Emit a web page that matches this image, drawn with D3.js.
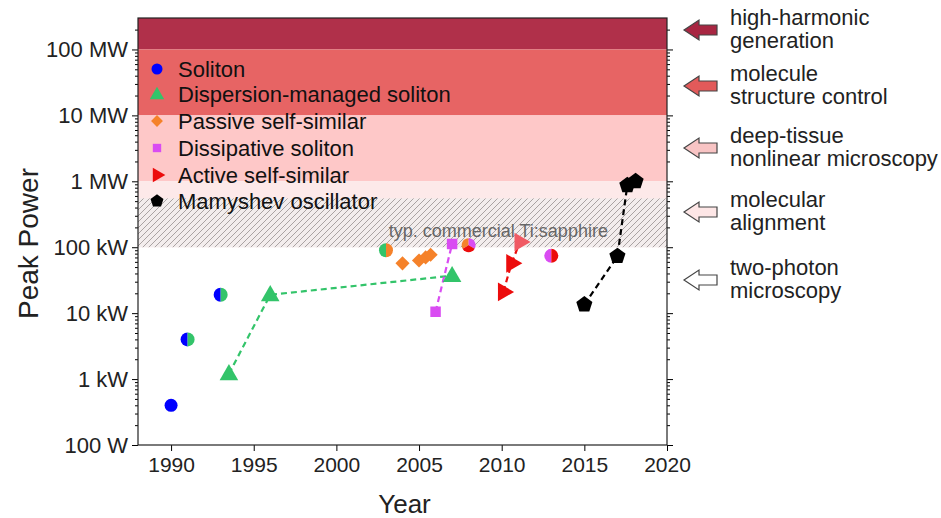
<!DOCTYPE html>
<html>
<head>
<meta charset="utf-8">
<script src="https://cdn.jsdelivr.net/npm/d3@7"></script>
<style>
  body { margin: 0; background: #fff; }
  svg { font-family: Arial, "Liberation Sans", sans-serif; }
</style>
</head>
<body>
<svg id="viz" width="941" height="518"></svg>
<script>
// data: [year, peak power in W]
var soliton = [[1990, 400]];
var dmSoliton = [[1993.5, 1200], [1996, 19000], [2007, 37000]];
var passiveSS = [[2004, 57000], [2005, 63000], [2005.4, 70000], [2005.7, 77000]];
var dissipative = [[2006, 10500], [2007, 112000]];
var activeSS = [[2010.1, 21000], [2010.6, 57000], [2011.1, 120000]];
var mamyshev = [[2015, 13500], [2017, 73000], [2017.6, 870000], [2018.1, 1000000]];
// points shared by several regimes (split circles)
var mixedYears = [1991, 1993, 2003, 2008, 2013];
var mixedPower = [4000, 19000, 90000, 107000, 74000];
var mixedColors = [["blue", "green"], ["blue", "green"], ["green", "orange"], ["orange", "magenta", "red"], ["magenta", "red"]];

var yTicks = [1e2, 1e3, 1e4, 1e5, 1e6, 1e7, 1e8];
var yTickLabels = ["100 W", "1 kW", "10 kW", "100 kW", "1 MW", "10 MW", "100 MW"];
var xTicks = [1990, 1995, 2000, 2005, 2010, 2015, 2020];

var legendNames = ["Soliton", "Dispersion-managed soliton", "Passive self-similar", "Dissipative soliton", "Active self-similar", "Mamyshev oscillator"];

// power bands and applications
var bandEdges = [3e8, 1e8, 1e7, 1e6, 1e5];
var bandColors = ["#b0304a", "#e76464", "#fec8c8", "#fde9e9"];
var appLabels = [["high-harmonic", "generation"], ["molecule", "structure control"], ["deep-tissue", "nonlinear microscopy"], ["molecular", "alignment"], ["two-photon", "microscopy"]];
var appArrowColors = ["#a82642", "#e25a5a", "#f8c4c4", "#fde6e6", "#ffffff"];
var tiSapphire = [1e5, 5.5e5];

var col = {blue: "#0000ff", green: "#33c46a", orange: "#f5822a", magenta: "#d94cf2", red: "#ec0c0c", black: "#000000"};

var margins = {top: 18, right: 274, bottom: 73, left: 138};
var W = 941, H = 518;

var svg = d3.select("#viz");
var x = d3.scaleLinear().domain([1988, 2020]).range([margins.left, W - margins.right]);
var y = d3.scaleLog().domain([100, 3e8]).range([H - margins.bottom, margins.top]);

var x0 = x.range()[0], x1 = x.range()[1], y0 = y.range()[0], y1 = y.range()[1];

// hatch pattern
var defs = svg.append("defs");
var pat = defs.append("pattern")
  .attr("id", "hatch").attr("patternUnits", "userSpaceOnUse")
  .attr("width", 6).attr("height", 6);
pat.append("rect").attr("width", 6).attr("height", 6).attr("fill", "#f3eded");
pat.append("path").attr("d", "M-1,1 l2,-2 M0,6 l6,-6 M5,7 l2,-2")
  .attr("stroke", "#aaa3a3").attr("stroke-width", 1);

// bands
for (var i = 0; i < bandColors.length; i++) {
  svg.append("rect")
    .attr("x", x0).attr("width", x1 - x0)
    .attr("y", y(bandEdges[i])).attr("height", y(bandEdges[i + 1]) - y(bandEdges[i]))
    .attr("fill", bandColors[i]);
}
svg.append("rect")
  .attr("x", x0).attr("width", x1 - x0)
  .attr("y", y(tiSapphire[1])).attr("height", y(tiSapphire[0]) - y(tiSapphire[1]))
  .attr("fill", "url(#hatch)");
svg.append("text")
  .attr("x", x(2009.8)).attr("y", y(1.45e5))
  .attr("text-anchor", "middle").attr("font-size", 18).attr("fill", "#666")
  .text("typ. commercial Ti:sapphire");

// axes
var yAxis = d3.axisLeft(y).tickValues(yTicks).tickSize(6)
  .tickFormat(function(d, i) { return yTickLabels[i]; });
var gy = svg.append("g").attr("transform", "translate(" + x0 + ",0)").call(yAxis);
gy.selectAll("text").attr("font-size", 22).attr("fill", "#222").attr("dx", "-1");

var minor = [];
for (var e = 2; e <= 8; e++) {
  for (var m = 2; m <= 9; m++) {
    if (m * Math.pow(10, e) < 3e8) minor.push(m * Math.pow(10, e));
  }
}
svg.append("g").attr("transform", "translate(" + x0 + ",0)")
  .call(d3.axisLeft(y).tickValues(minor).tickSize(3).tickFormat(""));
svg.append("g").attr("transform", "translate(" + x1 + ",0)")
  .call(d3.axisRight(y).tickValues(yTicks).tickSize(6).tickFormat(""));
svg.append("g").attr("transform", "translate(" + x1 + ",0)")
  .call(d3.axisRight(y).tickValues(minor).tickSize(3).tickFormat(""));

var gx = svg.append("g").attr("transform", "translate(0," + y0 + ")")
  .call(d3.axisBottom(x).tickValues(xTicks).tickSize(6).tickFormat(d3.format("d")));
gx.selectAll("text").attr("font-size", 21).attr("fill", "#222").attr("dy", "0.85em");
svg.selectAll(".domain").remove();

svg.append("rect")
  .attr("x", x0).attr("y", y1).attr("width", x1 - x0).attr("height", y0 - y1)
  .attr("fill", "none").attr("stroke", "#222").attr("stroke-width", 1.2);

svg.append("text")
  .attr("x", (x0 + x1) / 2 + 2).attr("y", 513)
  .attr("text-anchor", "middle").attr("font-size", 26).attr("fill", "#222")
  .text("Year");
svg.append("text")
  .attr("transform", "translate(38," + ((y0 + y1) / 2 + 12) + ") rotate(-90)")
  .attr("text-anchor", "middle").attr("font-size", 28).attr("fill", "#222")
  .text("Peak Power");

// dashed connecting lines
var line = d3.line().x(function(d) { return x(d[0]); }).y(function(d) { return y(d[1]); });
var dashed = [[dmSoliton, col.green], [dissipative, col.magenta], [activeSS, col.red], [mamyshev, col.black]];
dashed.forEach(function(s) {
  svg.append("path").datum(s[0])
    .attr("d", line).attr("fill", "none")
    .attr("stroke", s[1]).attr("stroke-width", 2.2).attr("stroke-dasharray", "6,4");
});

// marker shapes
var pentagon = {
  draw: function(ctx, size) {
    var r = Math.sqrt(size / 2.378);
    for (var k = 0; k < 5; k++) {
      var a = -Math.PI / 2 + k * 2 * Math.PI / 5;
      if (k === 0) ctx.moveTo(r * Math.cos(a), r * Math.sin(a));
      else ctx.lineTo(r * Math.cos(a), r * Math.sin(a));
    }
    ctx.closePath();
  }
};
function marker(g, type, cx, cy, size, fill, rot) {
  g.append("path")
    .attr("d", d3.symbol().type(type).size(size)())
    .attr("transform", "translate(" + cx + "," + cy + ") rotate(" + (rot || 0) + ")")
    .attr("fill", fill);
}

var pts = svg.append("g");
soliton.forEach(function(d) {
  pts.append("circle").attr("cx", x(d[0])).attr("cy", y(d[1])).attr("r", 6.5).attr("fill", col.blue);
});
dmSoliton.forEach(function(d) { marker(pts, d3.symbolTriangle, x(d[0]), y(d[1]) + 1, 150, col.green); });
passiveSS.forEach(function(d) { marker(pts, d3.symbolSquare, x(d[0]), y(d[1]), 100, col.orange, 45); });
dissipative.forEach(function(d) { marker(pts, d3.symbolSquare, x(d[0]), y(d[1]), 110, col.magenta); });
activeSS.forEach(function(d, i) {
  marker(pts, d3.symbolTriangle, x(d[0]), y(d[1]), 150, i === 2 ? "#f05a64" : col.red, 90);
});
mamyshev.forEach(function(d) { marker(pts, pentagon, x(d[0]), y(d[1]), 170, col.black); });

var arc = d3.arc().innerRadius(0).outerRadius(7);
mixedYears.forEach(function(yr, i) {
  var cs = mixedColors[i];
  var g = pts.append("g").attr("transform", "translate(" + x(yr) + "," + y(mixedPower[i]) + ")");
  var parts;
  if (cs.length === 2) parts = [[Math.PI, 2 * Math.PI], [0, Math.PI]];
  else parts = [[4 * Math.PI / 3, 2 * Math.PI], [0, 2 * Math.PI / 3], [2 * Math.PI / 3, 4 * Math.PI / 3]];
  cs.forEach(function(c, k) {
    g.append("path").attr("d", arc({startAngle: parts[k][0], endAngle: parts[k][1]})).attr("fill", col[c]);
  });
});

// legend
var legendRows = [69, 94, 121, 148, 175, 201];
var lg = svg.append("g");
legendNames.forEach(function(name, i) {
  var cx = 157, cy = legendRows[i];
  if (i === 0) lg.append("circle").attr("cx", cx).attr("cy", cy).attr("r", 5.5).attr("fill", col.blue);
  if (i === 1) marker(lg, d3.symbolTriangle, cx, cy + 1, 90, col.green);
  if (i === 2) marker(lg, d3.symbolSquare, cx, cy, 70, col.orange, 45);
  if (i === 3) marker(lg, d3.symbolSquare, cx, cy, 70, col.magenta);
  if (i === 4) marker(lg, d3.symbolTriangle, cx, cy, 90, col.red, 90);
  if (i === 5) marker(lg, pentagon, cx, cy, 110, col.black);
  lg.append("text").attr("x", 178).attr("y", cy + 8)
    .attr("font-size", 22).attr("fill", "#111").text(name);
});

// application arrows on the right
var appY = [30, 86, 148, 212, 280];
appLabels.forEach(function(lines, i) {
  var cy = appY[i], tip = 684;
  var pts2 = [[tip, cy], [tip + 15, cy - 10], [tip + 15, cy - 5], [tip + 33, cy - 5],
              [tip + 33, cy + 5], [tip + 15, cy + 5], [tip + 15, cy + 10]];
  svg.append("path")
    .attr("d", "M" + pts2.join("L") + "Z")
    .attr("fill", appArrowColors[i]).attr("stroke", "#444").attr("stroke-width", 1.2);
  lines.forEach(function(t, k) {
    svg.append("text")
      .attr("x", 730).attr("y", cy - 5 + k * 23)
      .attr("font-size", 22).attr("fill", "#222").text(t);
  });
});
</script>
</body>
</html>
